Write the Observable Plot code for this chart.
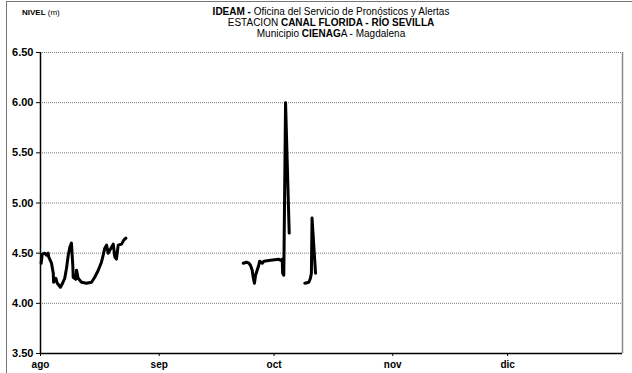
<!DOCTYPE html>
<html>
<head>
<meta charset="utf-8">
<script src="https://cdn.jsdelivr.net/npm/d3@7"></script>
<script src="https://cdn.jsdelivr.net/npm/@observablehq/plot@0.6"></script>
<style>
  html, body { margin: 0; padding: 0; background: #fff; overflow: hidden; }
  #wrap { position: relative; width: 632px; height: 373px; overflow: hidden; font-family: "Liberation Sans", Arial, sans-serif; }
  #border { position: absolute; left: 6px; top: 1px; width: 700px; height: 400px; border: 1px solid #777; box-sizing: border-box; }
  .t { position: absolute; left: 331px; transform: translateX(-50%); white-space: nowrap; font-size: 10px; color: #000; letter-spacing: 0px; }
  #unit { position: absolute; left: 22px; top: 8px; font-size: 8px; white-space: nowrap; }
  #chart { position: absolute; left: 0; top: 0; }
</style>
</head>
<body>
<div id="wrap">
  <div id="border"></div>
  <div id="unit"><b>NIVEL</b> (m)</div>
  <div class="t" style="top:6px"><b>IDEAM -</b> Oficina del Servicio de Pronósticos y Alertas</div>
  <div class="t" style="top:17px">ESTACION <b>CANAL FLORIDA - RÍO SEVILLA</b></div>
  <div class="t" style="top:28px">Municipio <b>CIENAG</b>A - Magdalena</div>
  <div id="chart"></div>
</div>
<script>
// Tick labels
const monthLabels = ["ago", "sep", "oct", "nov", "dic"];
const yTicks = [3.5, 4.0, 4.5, 5.0, 5.5, 6.0, 6.5];

// Segment 1 (agosto)
const seg1Times = [
  "2010-08-01T04:00Z","2010-08-01T11:00Z","2010-08-02T03:00Z","2010-08-02T14:00Z","2010-08-03T00:00Z",
  "2010-08-03T04:00Z","2010-08-03T21:00Z","2010-08-04T08:00Z","2010-08-04T10:00Z","2010-08-05T00:00Z",
  "2010-08-05T09:00Z","2010-08-06T05:00Z","2010-08-06T18:00Z","2010-08-07T08:00Z","2010-08-07T19:00Z",
  "2010-08-08T06:00Z","2010-08-08T16:00Z","2010-08-09T02:00Z","2010-08-09T11:00Z","2010-08-09T13:00Z",
  "2010-08-10T05:00Z","2010-08-10T10:00Z","2010-08-10T20:00Z","2010-08-11T17:00Z","2010-08-13T00:00Z",
  "2010-08-14T08:00Z","2010-08-15T04:00Z","2010-08-16T02:00Z","2010-08-16T22:00Z","2010-08-17T09:00Z",
  "2010-08-17T19:00Z","2010-08-18T06:00Z","2010-08-18T16:00Z","2010-08-19T13:00Z","2010-08-20T00:00Z",
  "2010-08-20T10:00Z","2010-08-20T20:00Z","2010-08-21T07:00Z","2010-08-22T04:00Z","2010-08-22T18:00Z",
  "2010-08-23T07:00Z"
];
const seg1Values = [
  4.40, 4.49, 4.50, 4.48, 4.50, 4.46, 4.40, 4.30, 4.21, 4.25,
  4.20, 4.16, 4.20, 4.25, 4.35, 4.48, 4.56, 4.60, 4.36, 4.26,
  4.24, 4.33, 4.25, 4.21, 4.20, 4.21, 4.26, 4.33, 4.41, 4.48,
  4.55, 4.58, 4.50, 4.56, 4.59, 4.46, 4.44, 4.58, 4.59, 4.63,
  4.65
];

// Segment 2 (fin de septiembre - inicio de octubre)
const seg2Times = [
  "2010-09-22T23:00Z","2010-09-23T19:00Z","2010-09-24T10:00Z","2010-09-24T20:00Z","2010-09-25T07:00Z",
  "2010-09-25T13:00Z","2010-09-25T21:00Z","2010-09-26T04:00Z","2010-09-26T14:00Z","2010-09-27T00:00Z",
  "2010-09-27T06:00Z","2010-09-27T22:00Z","2010-09-28T08:00Z","2010-09-30T02:00Z","2010-10-02T06:00Z",
  "2010-10-02T16:00Z","2010-10-03T03:00Z","2010-10-03T06:00Z","2010-10-03T13:00Z","2010-10-04T00:00Z",
  "2010-10-04T23:00Z"
];
const seg2Values = [
  4.40, 4.41, 4.40, 4.38, 4.33, 4.26, 4.20, 4.28, 4.33, 4.38,
  4.42, 4.40, 4.42, 4.43, 4.44, 4.43, 4.44, 4.30, 4.28, 6.00,
  4.70
];

// Segment 3 (octubre)
const seg3Times = [
  "2010-10-09T01:00Z","2010-10-10T02:00Z","2010-10-10T12:00Z","2010-10-10T18:00Z","2010-10-10T22:00Z",
  "2010-10-11T20:00Z"
];
const seg3Values = [4.20, 4.21, 4.25, 4.30, 4.85, 4.30];

const rows = [];
[[seg1Times, seg1Values], [seg2Times, seg2Values], [seg3Times, seg3Values]].forEach(([ts, vs], s) => {
  ts.forEach((t, i) => rows.push({seg: s, date: new Date(t), nivel: vs[i]}));
});

const x0 = new Date("2010-08-01T00:00Z");
const x1 = new Date("2010-12-31T00:00Z");
const monthTicks = d3.utcMonth.range(x0, x1);

const chart = Plot.plot({
  width: 632,
  height: 373,
  marginLeft: 40,
  marginRight: 10,
  marginTop: 52,
  marginBottom: 20,
  style: {fontFamily: "'Liberation Sans', Arial, sans-serif", background: "transparent", color: "#000"},
  x: {type: "utc", domain: [x0, x1]},
  y: {domain: [3.5, 6.5]},
  marks: [
    Plot.ruleY(yTicks.slice(1), {stroke: "#7a7a7a", strokeWidth: 1, strokeDasharray: "1,1"}),
    Plot.ruleX([x1], {stroke: "#8a8a8a", strokeWidth: 1.5}),
    Plot.axisY({ticks: yTicks, tickFormat: d3.format(".2f"), tickSize: 4, tickPadding: 3,
      fontWeight: "bold", fontSize: 11, label: null}),
    Plot.axisX({ticks: monthTicks, tickFormat: d => monthLabels[d.getUTCMonth() - 7],
      tickSize: 3, tickPadding: 4, fontWeight: "bold", fontSize: 10, label: null}),
    Plot.ruleY([3.5], {stroke: "#000", strokeWidth: 1.5}),
    Plot.ruleX([x0], {stroke: "#000", strokeWidth: 1.5}),
    Plot.line(rows, {x: "date", y: "nivel", z: "seg", stroke: "#000", strokeWidth: 3,
      strokeLinejoin: "round", strokeLinecap: "round", curve: "linear"})
  ]
});
document.getElementById("chart").appendChild(chart);
</script>
</body>
</html>
